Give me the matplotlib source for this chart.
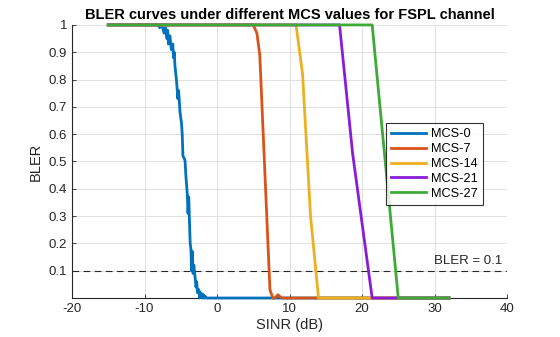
import matplotlib
matplotlib.use("Agg")
import matplotlib.pyplot as plt

plt.rcParams['font.family'] = ['Liberation Sans', 'DejaVu Sans']
plt.rcParams['axes.unicode_minus'] = False

# MCS-0 (fine, noisy measurement)
sinr_mcs0 = [-15, -8.1, -7.9, -7.7, -7.5, -7.3, -7.1, -6.9, -6.8, -6.7, -6.5, -6.3, -6.1, -6.0, -5.9,
             -5.8, -5.6, -5.4, -5.3, -5.2, -5.1, -4.9, -4.8, -4.7, -4.5, -4.4, -4.3, -4.1, -4.0,
             -3.9, -3.8, -3.7, -3.6, -3.5, -3.4, -3.3, -3.2, -3.0, -2.9, -2.8, -2.7, -2.5, -2.4,
             -2.3, -2.2, -2.1, -2.0, -1.9, -1.8, -1.7, -1.6, -1.5, -1.4, -1.3, -1.0, 32]
bler_mcs0 = [1.0, 1.0, 0.99, 1.0, 0.99, 0.97, 0.99, 0.95, 0.98, 0.93, 0.96, 0.91, 0.93, 0.88, 0.90,
             0.85, 0.80, 0.73, 0.76, 0.72, 0.68, 0.64, 0.60, 0.52, 0.51, 0.50, 0.45, 0.38, 0.31,
             0.37, 0.28, 0.20, 0.18, 0.10, 0.17, 0.09, 0.12, 0.07, 0.04, 0.06, 0.02, 0.03, 0.00,
             0.02, 0.01, 0.00, 0.015, 0.0, 0.01, 0.0, 0.005, 0.0, 0.0, 0.0, 0.0, 0.0]

sinr_mcs7 = [-15, 5.0, 5.5, 5.9, 7.3, 7.7, 8.0, 8.4, 8.9, 32]
bler_mcs7 = [1.0, 1.0, 0.97, 0.89, 0.03, 0.0, 0.0, 0.012, 0.0, 0.0]

sinr_mcs14 = [-15, 10.9, 11.8, 12.9, 14.0, 32]
bler_mcs14 = [1.0, 1.0, 0.82, 0.30, 0.0, 0.0]

sinr_mcs21 = [-15, 16.9, 18.7, 21.4, 32]
bler_mcs21 = [1.0, 1.0, 0.53, 0.0, 0.0]

sinr_mcs27 = [-15, 21.4, 25.0, 32]
bler_mcs27 = [1.0, 1.0, 0.0, 0.0]

labels = ['MCS-0', 'MCS-7', 'MCS-14', 'MCS-21', 'MCS-27']
colors = ['#0072BD', '#D95319', '#EDB120', '#8A1BD8', '#3DAA35']

xticks = [-20, -10, 0, 10, 20, 30, 40]
yticks = [0.1, 0.2, 0.3, 0.4, 0.5, 0.6, 0.7, 0.8, 0.9, 1.0]
ytick_labels = ['0.1', '0.2', '0.3', '0.4', '0.5', '0.6', '0.7', '0.8', '0.9', '1']

fig = plt.figure(figsize=(5.6, 3.37), dpi=100)
ax = fig.add_axes([0.1286, 0.1157, 0.7768, 0.8103])

series = [(sinr_mcs0, bler_mcs0), (sinr_mcs7, bler_mcs7), (sinr_mcs14, bler_mcs14),
          (sinr_mcs21, bler_mcs21), (sinr_mcs27, bler_mcs27)]
for (x, y), lab, c in zip(series, labels, colors):
    ax.plot(x, y, color=c, lw=2, label=lab, clip_on=False, zorder=3)

ax.axhline(0.1, color='#262626', lw=0.8, dashes=(6, 4))
ax.text(39.3, 0.115, 'BLER = 0.1', ha='right', va='bottom', fontsize=9.5, color='#262626')

ax.set_xlim(-20, 40)
ax.set_ylim(0, 1)
ax.set_xticks(xticks)
ax.set_yticks(yticks)
ax.set_yticklabels(ytick_labels)
ax.tick_params(direction='in', length=3, labelsize=9.5, colors='#262626', width=0.6)
ax.grid(True, color='#dcdcdc', lw=0.6)
ax.set_axisbelow(True)
for s in ['top', 'right']:
    ax.spines[s].set_visible(False)
for s in ['left', 'bottom']:
    ax.spines[s].set_color('#262626')
    ax.spines[s].set_linewidth(0.8)
    ax.spines[s].set_zorder(2)

ax.set_xlabel('SINR (dB)', fontsize=10.5, color='#262626', labelpad=2)
ax.set_ylabel('BLER', fontsize=10.5, color='#262626', labelpad=4)
ax.set_title('BLER curves under different MCS values for FSPL channel', fontsize=10.5,
             fontweight='bold', color='black', pad=4)

leg = ax.legend(loc='upper left', bbox_to_anchor=(0.722, 0.64), fontsize=9.2, frameon=True,
                fancybox=False, edgecolor='black', handlelength=2.7, handletextpad=0.4,
                labelspacing=0.22, borderpad=0.4, borderaxespad=0)
leg.get_frame().set_linewidth(0.8)
leg.set_zorder(5)

fig.savefig('out.png', dpi=100)
